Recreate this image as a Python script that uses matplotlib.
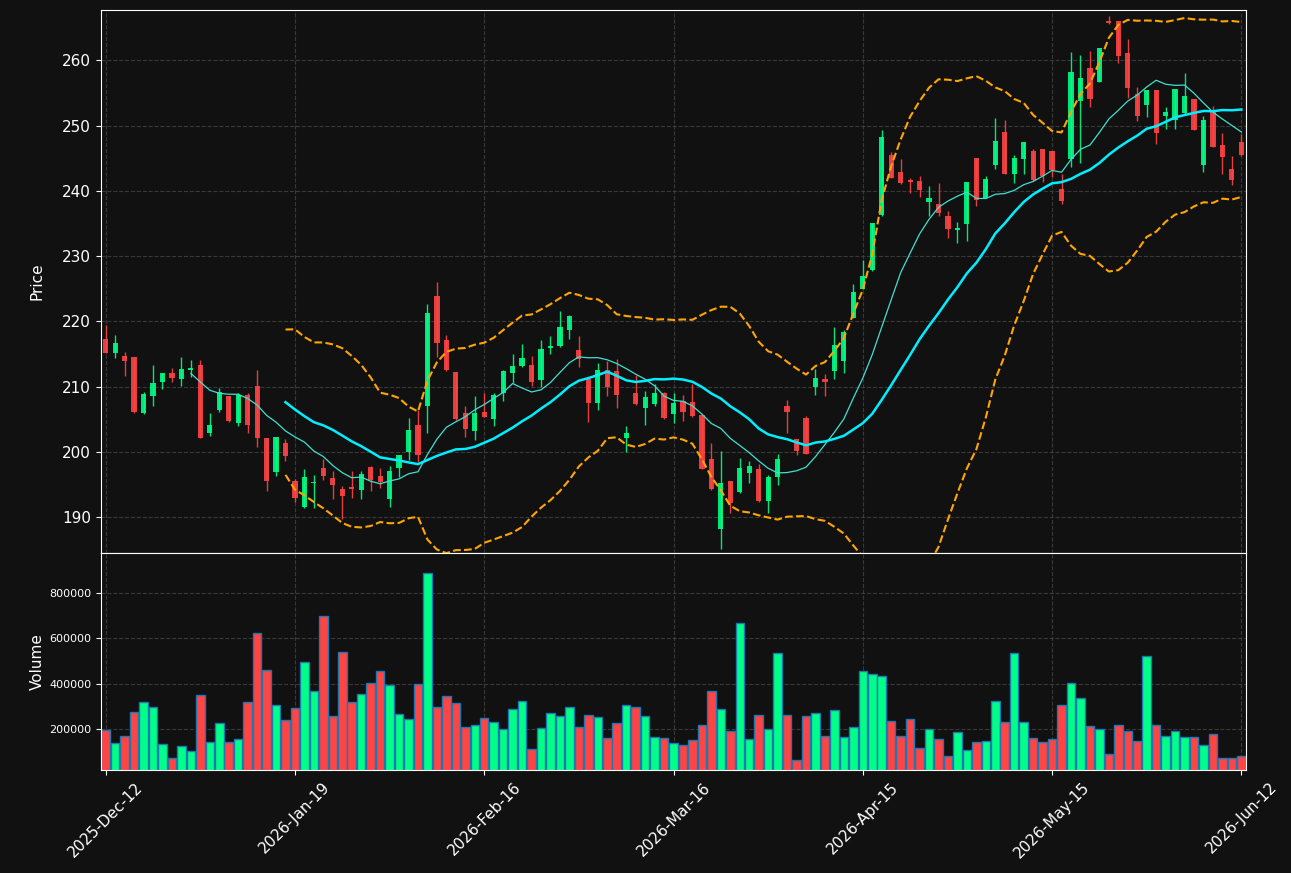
import numpy as np
import pandas as pd
import matplotlib
matplotlib.use('Agg')
import matplotlib.pyplot as plt

# ---------------- data (one candle per trading day) ----------------
opens = [217.28, 215.18, 214.67, 214.51, 205.95, 208.56, 210.72, 212.05, 211.18, 212.60,
         213.28, 202.87, 206.41, 208.51, 204.41, 208.67, 210.05, 202.05, 196.87, 201.28,
         195.59, 191.49, 195.18, 197.54, 196.05, 194.31, 194.67, 194.21, 197.74, 196.36,
         192.82, 197.49, 199.95, 204.05, 207.03, 223.95, 217.13, 212.21, 205.90, 203.13,
         206.05, 204.96, 208.95, 212.01, 213.09, 213.29, 210.94, 215.85, 216.15, 218.60,
         215.64, 211.14, 207.41, 212.52, 212.42, 202.05, 209.00, 206.70, 207.31, 209.00,
         205.78, 207.79, 207.59, 205.59, 198.97, 188.10, 195.59, 193.79, 196.72, 197.44,
         192.41, 196.10, 207.08, 202.00, 205.13, 209.95, 211.13, 212.41, 213.95, 220.56,
         224.94, 227.85, 236.24, 245.45, 242.84, 241.61, 241.46, 238.29, 238.03, 236.09,
         233.99, 234.91, 244.99, 238.95, 243.96, 248.98, 242.58, 244.88, 246.06, 246.37,
         246.05, 240.21, 244.87, 253.79, 258.77, 256.72, 266.00, 266.00, 261.13, 254.87,
         253.18, 255.44, 251.49, 250.87, 251.85, 254.05, 243.95, 252.36, 246.97, 243.28,
         247.44]
highs = [219.44, 217.90, 215.33, 214.60, 209.23, 213.23, 212.05, 212.77, 214.46, 214.05,
         214.05, 206.00, 209.85, 208.60, 209.03, 209.08, 212.51, 202.05, 202.20, 202.00,
         195.85, 197.38, 196.46, 198.92, 197.03, 194.77, 197.13, 197.03, 197.85, 197.54,
         197.80, 199.44, 205.13, 206.36, 222.67, 226.00, 217.90, 212.30, 207.08, 208.62,
         209.08, 209.00, 212.52, 214.98, 216.51, 214.62, 217.17, 217.74, 221.57, 221.00,
         217.74, 211.20, 213.60, 213.96, 214.21, 204.00, 211.81, 209.25, 210.38, 209.10,
         208.95, 208.77, 210.46, 205.70, 201.38, 200.15, 195.60, 199.08, 198.62, 198.10,
         196.46, 199.69, 207.90, 202.00, 205.54, 212.62, 212.00, 219.08, 218.67, 225.69,
         229.44, 235.10, 249.39, 245.96, 244.94, 242.02, 242.33, 240.79, 241.25, 236.85,
         235.17, 241.30, 245.00, 242.23, 251.23, 250.92, 245.55, 247.44, 246.37, 246.40,
         246.10, 242.62, 261.23, 260.77, 261.38, 261.90, 266.82, 266.00, 263.23, 255.85,
         255.50, 255.50, 252.77, 255.60, 258.00, 254.10, 251.44, 252.97, 248.92, 245.28,
         248.77]
lows = [215.10, 214.30, 211.69, 206.00, 205.74, 207.08, 209.69, 210.77, 210.10, 211.49,
        202.10, 202.46, 206.10, 204.56, 204.00, 202.87, 200.72, 193.95, 196.26, 198.56,
        192.26, 191.40, 191.40, 195.70, 192.72, 189.64, 192.92, 192.72, 193.95, 194.46,
        191.49, 196.10, 198.67, 198.41, 202.87, 214.56, 212.40, 204.90, 202.30, 201.85,
        205.30, 203.94, 207.77, 210.53, 213.00, 210.12, 209.97, 214.98, 216.10, 217.28,
        212.98, 204.50, 206.39, 208.54, 206.70, 199.95, 207.10, 204.14, 207.00, 205.10,
        204.35, 204.77, 205.40, 197.30, 194.20, 185.08, 190.62, 193.70, 195.23, 192.30,
        190.62, 194.97, 202.92, 199.44, 199.60, 208.77, 208.56, 211.18, 212.15, 220.50,
        224.90, 227.70, 236.10, 241.90, 241.10, 239.67, 239.05, 236.19, 236.19, 232.81,
        232.00, 232.35, 237.72, 238.90, 243.35, 242.50, 241.25, 242.58, 241.50, 241.30,
        242.10, 238.00, 243.59, 244.31, 252.77, 256.70, 265.60, 259.54, 254.15, 250.67,
        251.33, 247.23, 249.44, 249.44, 251.80, 249.30, 242.92, 246.70, 242.62, 240.87,
        245.40]
closes = [215.18, 216.67, 213.95, 206.10, 208.82, 210.51, 212.05, 211.33, 212.67, 212.80,
          202.10, 204.05, 209.23, 204.72, 208.67, 204.10, 202.10, 195.49, 202.20, 199.33,
          192.87, 196.20, 195.44, 196.36, 194.87, 193.18, 194.26, 196.67, 195.74, 195.44,
          197.13, 199.44, 203.28, 199.44, 221.28, 216.72, 212.51, 205.03, 203.54, 205.95,
          205.33, 208.74, 212.42, 213.14, 214.42, 210.63, 215.79, 216.20, 219.12, 220.85,
          214.16, 207.41, 212.58, 209.87, 208.64, 202.92, 207.26, 208.44, 209.00, 205.11,
          207.52, 206.10, 205.49, 197.33, 194.26, 195.28, 192.10, 197.59, 197.90, 192.51,
          196.20, 198.97, 206.10, 200.05, 199.74, 211.38, 210.72, 216.36, 218.36, 224.42,
          226.88, 235.01, 248.21, 241.97, 241.20, 241.36, 240.08, 238.85, 236.60, 234.14,
          234.30, 241.30, 238.59, 241.76, 247.60, 242.58, 244.99, 247.44, 241.61, 242.23,
          243.13, 238.51, 258.21, 257.28, 254.10, 261.90, 265.64, 260.72, 255.79, 251.49,
          255.44, 248.87, 252.05, 255.59, 254.51, 249.33, 250.82, 246.72, 245.18, 241.59,
          245.44]
volumes = [195600, 139700, 169100, 275000, 319000, 297000, 133800, 72000, 125000, 103000,
           350000, 142600, 226500, 142600, 155900, 319000, 623500, 460000, 306000, 239700,
           292600, 495600, 367600, 698500, 257400, 539700, 319000, 354000, 403000, 456000,
           394000, 266000, 244000, 398500, 888000, 298500, 345600, 314700, 210000, 219000,
           248500, 230900, 200000, 288000, 323500, 113000, 204000, 270600, 258800, 297000,
           210000, 263000, 253000, 160000, 228000, 306000, 298500, 258800, 164700, 160000,
           139700, 130900, 153000, 219000, 367600, 288000, 192600, 667600, 155900, 261800,
           200000, 535300, 261800, 64700, 257400, 270600, 169000, 283800, 164700, 208800,
           455900, 442600, 433800, 235300, 169000, 244000, 116200, 200000, 155900, 80900,
           186800, 107400, 142600, 147000, 323500, 230900, 535300, 230900, 160000, 142600,
           155900, 306000, 403000, 336800, 213000, 200000, 89700, 217600, 191000, 147000,
           522000, 217600, 169000, 191000, 164700, 164700, 129400, 178000, 72000, 72000,
           80900]
tick_pos = [0, 20, 40, 60, 80, 100, 120]
tick_labels = ['2025-Dec-12', '2026-Jan-19', '2026-Feb-16', '2026-Mar-16',
               '2026-Apr-15', '2026-May-15', '2026-Jun-12']

df = pd.DataFrame({'Open': opens, 'High': highs, 'Low': lows,
                   'Close': closes, 'Volume': volumes})
x = np.arange(len(df))

# moving averages and bollinger bands
ma10 = df['Close'].rolling(10).mean()
ma20 = df['Close'].rolling(20).mean()
sd20 = df['Close'].rolling(20).std(ddof=0)
bb_up = ma20 + 2 * sd20
bb_dn = ma20 - 2 * sd20

bg = '#111111'
up_c = '#00ff88'
dn_c = '#ff4444'

fig = plt.figure(figsize=(12.91, 8.73), dpi=100, facecolor=bg)
ax = fig.add_axes([0.0782, 0.3666, 0.887, 0.6219], facecolor=bg)
axv = fig.add_axes([0.0782, 0.118, 0.887, 0.2486], facecolor=bg, sharex=ax)

up = df['Close'] >= df['Open']
colors = np.where(up, up_c, dn_c)

# candles
ax.vlines(x, df['Low'], df['High'], colors=colors, linewidth=1, alpha=0.9, zorder=2)
body_lo = np.minimum(df['Open'], df['Close'])
body_h = np.maximum(np.abs(df['Close'] - df['Open']), 0.15)
ax.bar(x, body_h, bottom=body_lo, width=0.55, color=colors, alpha=0.9, zorder=3)

ax.plot(x, ma10, color='#40e0d0', linewidth=0.9, zorder=4)
ax.plot(x, ma20, color='#00eeff', linewidth=1.8, zorder=4)
ax.plot(x, bb_up, color='orange', linestyle='--', linewidth=1.5, zorder=4)
ax.plot(x, bb_dn, color='orange', linestyle='--', linewidth=1.5, zorder=4)

# volume
axv.bar(x, df['Volume'], width=0.9, color=colors, edgecolor='#1f77b4', linewidth=1)

ax.set_xlim(-0.5, len(df) - 0.5)
ax.set_ylim(184.5, 267.7)
axv.set_ylim(0.3 * min(volumes), 1.1 * max(volumes))

ax.set_xticks(tick_pos)
axv.set_xticks(tick_pos)
axv.set_xticklabels(tick_labels, rotation=45)
ax.tick_params(axis='x', labelbottom=False, length=0)
ax.set_yticks([190, 200, 210, 220, 230, 240, 250, 260])
axv.set_yticks([200000, 400000, 600000, 800000])
axv.ticklabel_format(axis='y', style='plain')

for a in (ax, axv):
    a.grid(True, color='#444444', linestyle='--', linewidth=0.8, alpha=0.8)
    a.set_axisbelow(True)
    a.tick_params(colors='white', labelsize=11)
    for s in a.spines.values():
        s.set_color('white')
axv.tick_params(axis='y', labelsize=8)
ax.set_ylabel('Price', color='white', fontsize=11)
axv.set_ylabel('Volume', color='white', fontsize=11)
ax.yaxis.set_label_coords(-0.049, 0.5)
axv.yaxis.set_label_coords(-0.049, 0.5)

fig.savefig('out.png', dpi=100, facecolor=bg)
